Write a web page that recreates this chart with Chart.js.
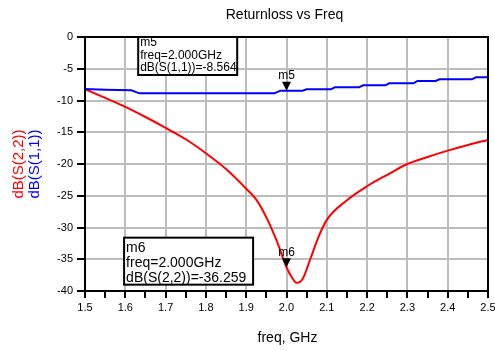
<!DOCTYPE html>
<html>
<head>
<meta charset="utf-8">
<script src="https://cdn.jsdelivr.net/npm/chart.js@4.4.1/dist/chart.umd.min.js"></script>
<style>
  html, body { margin: 0; padding: 0; background: #fff; }
</style>
</head>
<body>
<canvas id="chart" width="495" height="351"></canvas>
<script>
// S(2,2) in dB
const freqS22 = [1.50, 1.55, 1.60, 1.65, 1.70, 1.75, 1.80, 1.85, 1.90, 1.925, 1.95, 1.975, 2.00, 2.01, 2.025, 2.04, 2.06, 2.08, 2.10, 2.15, 2.20, 2.25, 2.30, 2.35, 2.40, 2.45, 2.50];
const dbS22   = [-8.2, -9.6, -11.0, -12.6, -14.3, -16.1, -18.3, -20.8, -23.9, -25.6, -28.4, -32.0, -36.26, -37.5, -38.7, -38.1, -34.8, -31.4, -28.8, -25.7, -23.5, -21.7, -20.0, -18.9, -17.9, -17.0, -16.2];

// S(1,1) in dB (stepped trace)
const freqS11 = [1.50, 1.55, 1.615, 1.635, 1.97, 1.985, 2.04, 2.05, 2.11, 2.12, 2.18, 2.19, 2.245, 2.255, 2.315, 2.325, 2.37, 2.38, 2.46, 2.47, 2.50];
const dbS11   = [-8.2, -8.3, -8.4, -8.87, -8.87, -8.45, -8.45, -8.24, -8.24, -7.93, -7.93, -7.61, -7.61, -7.3, -7.3, -6.93, -6.93, -6.67, -6.67, -6.35, -6.35];

const xLabels = ['1.5', '1.6', '1.7', '1.8', '1.9', '2.0', '2.1', '2.2', '2.3', '2.4', '2.5'];
const yLabels = ['0', '-5', '-10', '-15', '-20', '-25', '-30', '-35', '-40'];

const markers = [
  { name: 'm5', freq: 2.0, value: -8.45, lines: ['m5', 'freq=2.000GHz', 'dB(S(1,1))=-8.564'] },
  { name: 'm6', freq: 2.0, value: -36.259, lines: ['m6', 'freq=2.000GHz', 'dB(S(2,2))=-36.259'] }
];

const FONT = '"Liberation Sans", Arial, sans-serif';

function toPoints(xs, ys) {
  return xs.map((x, i) => ({ x: x, y: ys[i] }));
}

function isMajor(v) {
  return Math.abs(Math.round(v * 10) - v * 10) < 1e-6;
}

const decor = {
  id: 'decor',
  afterDraw(chart) {
    const { ctx, chartArea: a } = chart;
    const x = chart.scales.x, y = chart.scales.y;
    ctx.save();

    // frame
    ctx.strokeStyle = '#000';
    ctx.lineWidth = 2;
    ctx.strokeRect(a.left, a.top, a.right - a.left, a.bottom - a.top);

    // titles
    ctx.fillStyle = '#000';
    ctx.textAlign = 'center';
    ctx.textBaseline = 'middle';
    ctx.font = '14px ' + FONT;
    ctx.fillText('Returnloss vs Freq', (a.left + a.right) / 2 - 2, 15);
    ctx.fillText('freq, GHz', (a.left + a.right) / 2 + 1, 338);

    const midY = (a.top + a.bottom) / 2;
    ctx.font = '15px ' + FONT;
    ctx.save();
    ctx.translate(19, midY);
    ctx.rotate(-Math.PI / 2);
    ctx.fillStyle = '#ff0000';
    ctx.fillText('dB(S(2,2))', 0, 0);
    ctx.restore();
    ctx.save();
    ctx.translate(35, midY);
    ctx.rotate(-Math.PI / 2);
    ctx.fillStyle = '#0000ff';
    ctx.fillText('dB(S(1,1))', 0, 0);
    ctx.restore();

    // marker triangles + labels
    markers.forEach(m => {
      const px = x.getPixelForValue(m.freq);
      const py = y.getPixelForValue(m.value);
      ctx.fillStyle = '#000';
      ctx.beginPath();
      ctx.moveTo(px, py);
      ctx.lineTo(px - 4.5, py - 9);
      ctx.lineTo(px + 4.5, py - 9);
      ctx.closePath();
      ctx.fill();
      ctx.font = '12px ' + FONT;
      ctx.textAlign = 'center';
      ctx.textBaseline = 'middle';
      ctx.fillText(m.name, px, py - 15);
    });

    // readout boxes
    const boxes = [
      { m: markers[0], left: x.getPixelForValue(1.632), top: y.getPixelForValue(0), w: 99, h: 38, size: 12, gap: 12.5, first: 6 },
      { m: markers[1], left: x.getPixelForValue(1.597), top: y.getPixelForValue(-31.6), w: 129, h: 47, size: 14, gap: 15, first: 10 }
    ];
    boxes.forEach(b => {
      ctx.fillStyle = '#fff';
      ctx.fillRect(b.left, b.top, b.w, b.h);
      ctx.strokeStyle = '#000';
      ctx.lineWidth = 2;
      ctx.strokeRect(b.left, b.top, b.w, b.h);
      ctx.fillStyle = '#000';
      ctx.font = b.size + 'px ' + FONT;
      ctx.textAlign = 'left';
      ctx.textBaseline = 'middle';
      b.m.lines.forEach((t, i) => ctx.fillText(t, b.left + 2, b.top + b.first + i * b.gap));
    });

    ctx.restore();
  }
};

new Chart(document.getElementById('chart'), {
  type: 'line',
  data: {
    datasets: [
      {
        label: 'dB(S(1,1))',
        data: toPoints(freqS11, dbS11),
        borderColor: '#0000ff',
        borderWidth: 2,
        pointRadius: 0,
        tension: 0
      },
      {
        label: 'dB(S(2,2))',
        data: toPoints(freqS22, dbS22),
        borderColor: '#ff0000',
        borderWidth: 2,
        pointRadius: 0,
        cubicInterpolationMode: 'monotone'
      }
    ]
  },
  options: {
    responsive: false,
    animation: false,
    devicePixelRatio: 1,
    layout: { padding: { left: 0, right: 7, top: 37, bottom: 0 } },
    plugins: { legend: { display: false }, title: { display: false }, tooltip: { enabled: false } },
    scales: {
      x: {
        type: 'linear',
        min: 1.5,
        max: 2.5,
        afterFit: s => { s.height = 60; s.paddingRight = 0; s.paddingLeft = 0; },
        afterBuildTicks: s => {
          const t = [];
          xLabels.forEach((l, i) => {
            t.push({ value: parseFloat(l) });
            if (i < xLabels.length - 1) t.push({ value: parseFloat(l) + 0.05 });
          });
          s.ticks = t;
        },
        ticks: {
          autoSkip: false,
          maxRotation: 0,
          padding: 3,
          color: '#000',
          font: { family: FONT, size: 11 },
          callback: v => isMajor(v) ? v.toFixed(1) : ''
        },
        grid: {
          color: c => (c.tick && isMajor(c.tick.value)) ? '#bdbdbd' : 'rgba(0,0,0,0)',
          lineWidth: 2,
          tickColor: '#000',
          tickLength: 7,
          tickWidth: 2
        },
        border: { display: true, color: '#000', width: 2 }
      },
      y: {
        min: -40,
        max: 0,
        afterFit: s => { s.width = 85; s.paddingTop = 0; s.paddingBottom = 0; },
        afterBuildTicks: s => { s.ticks = yLabels.map(l => ({ value: parseFloat(l) })); },
        ticks: {
          padding: 4,
          color: '#000',
          font: { family: FONT, size: 11 },
          callback: v => String(v)
        },
        grid: {
          color: '#bdbdbd',
          lineWidth: 2,
          tickColor: '#000',
          tickLength: 8,
          tickWidth: 2
        },
        border: { display: true, color: '#000', width: 2 }
      }
    }
  },
  plugins: [decor]
});
</script>
</body>
</html>
